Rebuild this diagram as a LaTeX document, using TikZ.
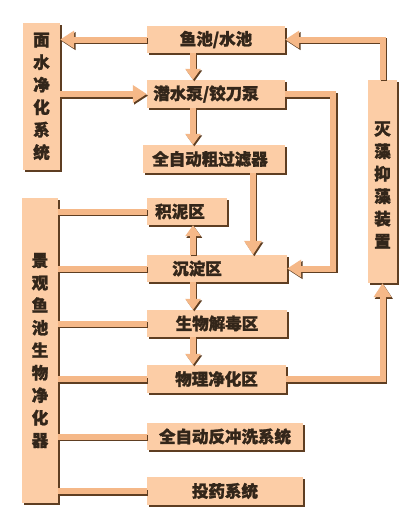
\documentclass[tikz,border=0pt]{standalone}
\usepackage{fontspec}
\newfontfamily\cjk[FakeBold=1.6]{Noto Sans CJK SC}
\usetikzlibrary{arrows.meta,shadows}
\definecolor{peach}{HTML}{FCCDA6}
\definecolor{linepeach}{HTML}{F5B888}
\definecolor{shade}{HTML}{5E3E22}
\definecolor{ink}{HTML}{33261A}
\tikzset{
  box/.style={rectangle, fill=peach, inner sep=0pt, text=ink,
    font=\cjk\bfseries\fontsize{16.5}{22.5}\selectfont,
    general shadow={fill=shade, shadow xshift=2.2pt, shadow yshift=-2.2pt}},
  vbox/.style={box, align=center},
  conn/.style={line width=6pt, draw=linepeach,
    preaction={draw=shade, line width=6pt, transform canvas={shift={(1.3pt,-1.6pt)}}}},
  arr/.style={conn, -{Triangle[length=14pt,width=17pt]}},
  sarr/.style={conn, -{Triangle[length=11pt,width=15pt]}}
}
\begin{document}
\begin{tikzpicture}[x=1pt,y=-1pt]
\useasboundingbox[fill=white] (0,0) rectangle (418,530);
% nodes
\node[box, minimum width=138pt, minimum height=27pt] (fish) at (216,39.5) {鱼池/水池};
\node[box, minimum width=138pt, minimum height=28pt] (pump) at (216,94) {潜水泵/铰刀泵\hspace*{20pt}};
\node[box, minimum width=142pt, minimum height=28pt] (filter) at (214,159) {全自动粗过滤器\hspace*{8pt}};
\node[vbox, minimum width=37pt, minimum height=147pt] (surf) at (41.5,96.5) {面\\水\\净\\化\\系\\统};
\node[vbox, minimum width=29pt, minimum height=203pt] (algae) at (382.5,181.5) {\rule{0pt}{0pt}\\[-2pt]灭\\藻\\抑\\藻\\装\\置};
\node[box, minimum width=80pt, minimum height=27pt] (mud) at (187,211.5) {积泥区\hspace*{14pt}};
\node[box, minimum width=140pt, minimum height=27pt] (sed) at (217,268.5) {沉淀区\hspace*{40pt}};
\node[box, minimum width=140pt, minimum height=27pt] (bio) at (217,323.5) {生物解毒区};
\node[box, minimum width=139pt, minimum height=28pt] (phys) at (216.5,379) {物理净化区};
\node[box, minimum width=156pt, minimum height=27pt] (back) at (225,436.5) {全自动反冲洗系统};
\node[box, minimum width=156pt, minimum height=28pt] (dose) at (225,491) {投药系统};
\node[vbox, minimum width=36pt, minimum height=305pt] (land) at (40,350.5) {景\\观\\鱼\\池\\生\\物\\净\\化\\器};
% connectors
\draw[arr] (fish.west) -- (fish.west -| surf.east);
\draw[arr] (algae.north) |- (fish.east);
\draw[arr] (surf.east |- pump.west) -- (pump.west);
\coordinate (cx) at ([xshift=-23pt]fish.south);
\draw[sarr] (cx) -- (cx |- pump.north);
\draw[sarr] (cx |- pump.south) -- (cx |- filter.north);
\draw[arr] (pump.east) -- ++(48,0) |- (sed.east);
\coordinate (fx) at ([xshift=39pt]filter.south);
\draw[arr] (fx) -- (fx |- sed.north);
\draw[sarr] (cx |- sed.north) -- (cx |- mud.south);
\draw[sarr] (cx |- sed.south) -- (cx |- bio.north);
\draw[sarr] (cx |- bio.south) -- (cx |- phys.north);
\draw[arr] (phys.east) -| (algae.south);
\foreach \n in {mud,sed,bio,phys,back,dose}
  \draw[conn] (land.east |- \n.west) -- (\n.west);
\end{tikzpicture}
\end{document}
